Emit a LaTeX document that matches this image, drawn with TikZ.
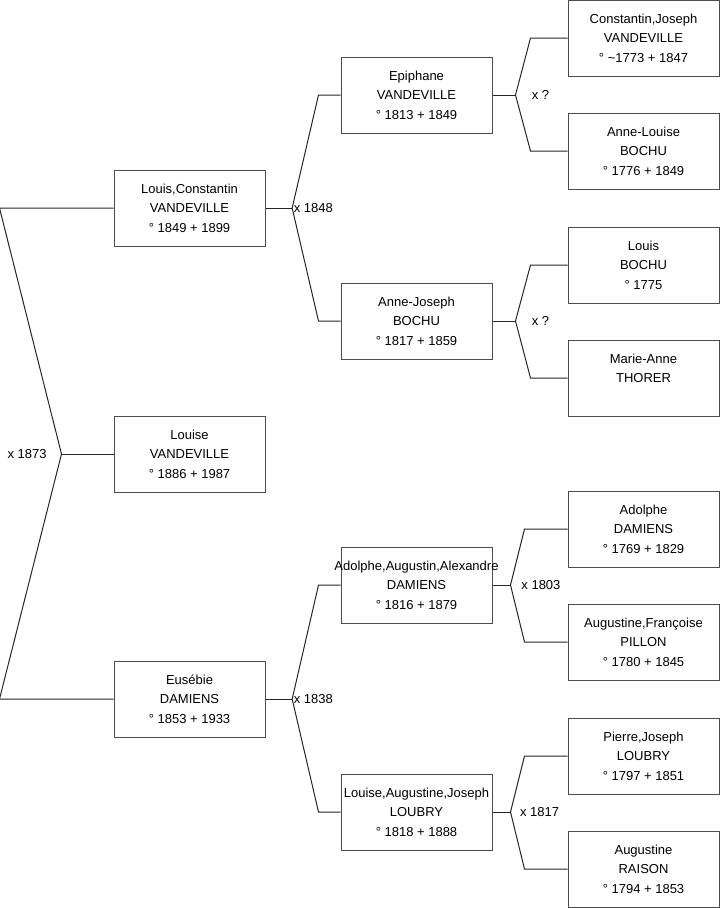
\documentclass[tikz,border=0pt]{standalone}
\usepackage{fontspec}
\setmainfont{Liberation Sans}
\usepackage{tikz}
\tikzstyle{person} = [rectangle, minimum width=113.25pt, minimum height=57pt, inner xsep=2pt, align=center, draw=black!70, line width=0.75pt, fill=white, font=\fontsize{9.75pt}{14.6pt}\selectfont]
\tikzstyle{wedding} = [inner sep=0pt, font=\fontsize{9.75pt}{12pt}\selectfont]
\tikzstyle{link} = [line width=0.75pt, black!85]
\newcommand{\wideline}[1]{\makebox[0pt]{#1}}

\begin{document}
\begin{tikzpicture}[node distance=170.25pt]
      \useasboundingbox (0,0) rectangle (539.25pt,-681pt);
      % Generation 1
      \node (louis_c) [person] at (142.125pt,-156pt) {Louis,Constantin\\VANDEVILLE\\° 1849 + 1899};
      \node (louise) [person, below of=louis_c, node distance=184.5pt] {Louise\\VANDEVILLE\\° 1886 + 1987};
      \node (eusebie) [person, below of=louise, node distance=183.75pt] {Eusébie\\DAMIENS\\° 1853 + 1933};
      % Generation 2
      \node (epiphane) [person, right of=louis_c, yshift=84.75pt] {Epiphane\\VANDEVILLE\\° 1813 + 1849};
      \node (anne_joseph) [person, right of=louis_c, yshift=-84.75pt] {Anne-Joseph\\BOCHU\\° 1817 + 1859};
      \node (adolphe_aa) [person, right of=eusebie, yshift=85.5pt] {\wideline{Adolphe,Augustin,Alexandre}\\DAMIENS\\° 1816 + 1879};
      \node (louise_aj) [person, right of=eusebie, yshift=-84.75pt] {Louise,Augustine,Joseph\\LOUBRY\\° 1818 + 1888};
      % Generation 3
      \node (constantin) [person, right of=epiphane, yshift=42.75pt] {Constantin,Joseph\\VANDEVILLE\\° \textasciitilde 1773 + 1847};
      \node (anne_louise) [person, right of=epiphane, yshift=-42pt] {Anne-Louise\\BOCHU\\° 1776 + 1849};
      \node (louis_b) [person, right of=anne_joseph, yshift=42pt] {Louis\\BOCHU\\° 1775};
      \node (marie_anne) [person, right of=anne_joseph, yshift=-42.75pt] {Marie-Anne\\THORER\\\mbox{}};
      \node (adolphe_d) [person, right of=adolphe_aa, yshift=42pt] {Adolphe\\DAMIENS\\° 1769 + 1829};
      \node (augustine_f) [person, right of=adolphe_aa, yshift=-42.75pt] {Augustine,Françoise\\PILLON\\° 1780 + 1845};
      \node (pierre) [person, right of=louise_aj, yshift=42pt] {Pierre,Joseph\\LOUBRY\\° 1797 + 1851};
      \node (augustine_r) [person, right of=louise_aj, yshift=-42.75pt] {Augustine\\RAISON\\° 1794 + 1853};
      % Fork points
      \coordinate (x1873) at ([xshift=-39pt]louise.west);
      \coordinate (x1848) at ([xshift=20pt]louis_c.east);
      \coordinate (x1838) at ([xshift=20pt]eusebie.east);
      \coordinate (xepi) at ([xshift=17.25pt]epiphane.east);
      \coordinate (xanne) at ([xshift=17.25pt]anne_joseph.east);
      \coordinate (x1803) at ([xshift=13.5pt]adolphe_aa.east);
      \coordinate (x1817) at ([xshift=13.5pt]louise_aj.east);
      % Links
      \draw [link] (louis_c.west) -- ++(-85.5pt,0) -- (x1873) -- ([xshift=-85.5pt]eusebie.west) -- (eusebie.west);
      \draw [link] (x1873) -- (louise.west);
      \draw [link] (louis_c.east) -- (x1848);
      \draw [link] (epiphane.west) -- ++(-16.5pt,0) -- (x1848) -- ([xshift=-16.5pt]anne_joseph.west) -- (anne_joseph.west);
      \draw [link] (eusebie.east) -- (x1838);
      \draw [link] (adolphe_aa.west) -- ++(-16.5pt,0) -- (x1838) -- ([xshift=-16.5pt]louise_aj.west) -- (louise_aj.west);
      \draw [link] (epiphane.east) -- (xepi);
      \draw [link] (constantin.west) -- ++(-27.75pt,0) -- (xepi) -- ([xshift=-27.75pt]anne_louise.west) -- (anne_louise.west);
      \draw [link] (anne_joseph.east) -- (xanne);
      \draw [link] (louis_b.west) -- ++(-27.75pt,0) -- (xanne) -- ([xshift=-27.75pt]marie_anne.west) -- (marie_anne.west);
      \draw [link] (adolphe_aa.east) -- (x1803);
      \draw [link] (adolphe_d.west) -- ++(-32.25pt,0) -- (x1803) -- ([xshift=-32.25pt]augustine_f.west) -- (augustine_f.west);
      \draw [link] (louise_aj.east) -- (x1817);
      \draw [link] (pierre.west) -- ++(-32.25pt,0) -- (x1817) -- ([xshift=-32.25pt]augustine_r.west) -- (augustine_r.west);
      % Marriages
      \node (m1873) [wedding, left=11pt] at (x1873) {x 1873};
      \node (m1848) [wedding, right=1pt] at (x1848) {x 1848};
      \node (m1838) [wedding, right=1pt] at (x1838) {x 1838};
      \node (mepi) [wedding, right=12pt] at (xepi) {x ?};
      \node (manne) [wedding, right=12pt] at (xanne) {x ?};
      \node (m1803) [wedding, right=8pt] at (x1803) {x 1803};
      \node (m1817) [wedding, right=7pt] at (x1817) {x 1817};
    \end{tikzpicture}
\end{document}
